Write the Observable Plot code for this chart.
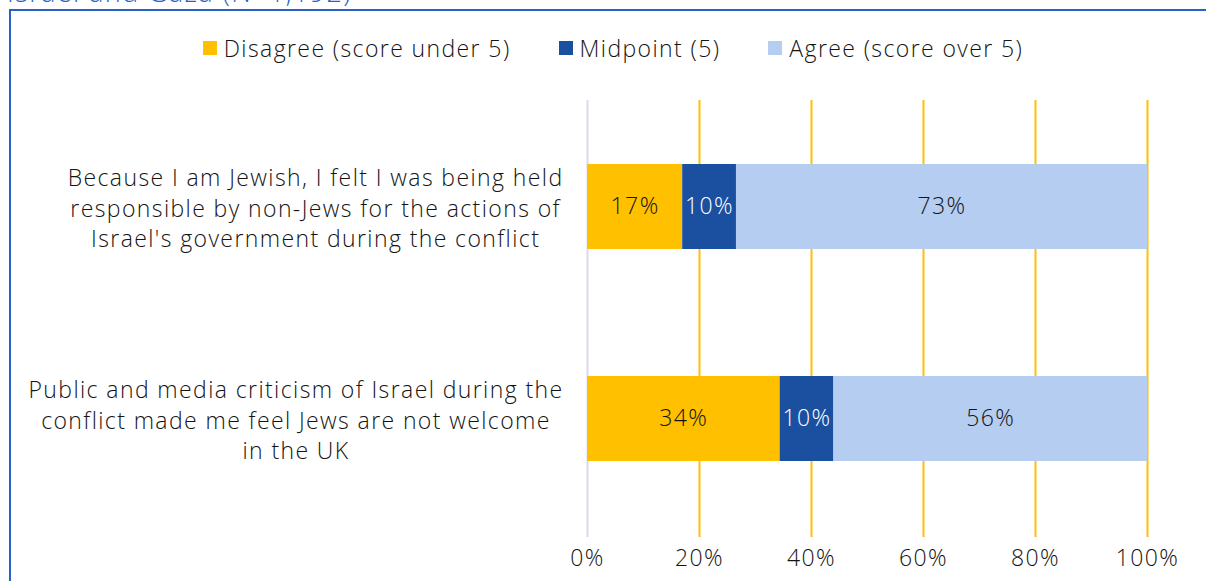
<!DOCTYPE html>
<html>
<head>
<meta charset="utf-8">
<script src="https://cdn.jsdelivr.net/npm/d3@7"></script>
<script src="https://cdn.jsdelivr.net/npm/@observablehq/plot@0.6"></script>
<style>
  html, body { margin: 0; padding: 0; background: #fff; }
  #wrap { position: relative; width: 1206px; height: 581px; overflow: hidden; font-family: "Open Sans", sans-serif; font-weight: 300; color: #141414; letter-spacing: 1.4px; }
  #title { position: absolute; left: 7px; top: -26px; font-size: 27px; line-height: 36px; color: #2563c4; white-space: nowrap; font-weight: 300; }
  #frame { position: absolute; left: 9px; top: 9px; right: -5px; bottom: -5px; border-left: 2.5px solid #2a62c4; border-top: 2.5px solid #2a62c4; }
  #legend { position: absolute; left: 10px; right: 0; top: 32px; display: flex; justify-content: center; gap: 48px; font-size: 23px; line-height: 32px; padding-left: 10px; }
  #legend .item { display: flex; align-items: center; gap: 7px; }
  #legend .sw { width: 14px; height: 14px; display: inline-block; }
  #chart { position: absolute; left: 0; top: 80px; }
  #chart svg { letter-spacing: 1.4px; }
</style>
</head>
<body>
<div id="wrap">
  <div id="title"></div>
  <div id="frame"></div>
  <div id="legend"></div>
  <div id="chart"></div>
</div>
<script>
const titleText = "Israel and Gaza (N=1,192)";
const categories = [
  "Because I am Jewish, I felt I was being held\nresponsible by non-Jews for the actions of\nIsrael's government during the conflict",
  "Public and media criticism of Israel during the\nconflict made me feel Jews are not welcome\nin the UK"
];
const responses = ["Disagree (score under 5)", "Midpoint (5)", "Agree (score over 5)"];
const disagree = [17.0, 34.4];
const midpoint = [9.6, 9.6];
const agree = [73.4, 56.0];
const tickValues = [0, 20, 40, 60, 80, 100];
const colors = ["#FFC000", "#1B4FA0", "#B4CDF0"];

document.getElementById("title").textContent = titleText;

const legend = document.getElementById("legend");
responses.forEach((r, i) => {
  const it = document.createElement("div");
  it.className = "item";
  const sw = document.createElement("span");
  sw.className = "sw";
  sw.style.background = colors[i];
  const t = document.createElement("span");
  t.textContent = r;
  it.appendChild(sw); it.appendChild(t);
  legend.appendChild(it);
});

const series = [disagree, midpoint, agree];
const rows = [];
categories.forEach((c, ci) => {
  let acc = 0;
  responses.forEach((r, ri) => {
    const v = series[ri][ci];
    rows.push({category: c, response: r, value: v, x1: acc, x2: acc + v, mid: acc + v / 2, label: Math.round(v) + "%"});
    acc += v;
  });
});

const FONT = '"Open Sans", sans-serif';
const FS = 23;
const LS = 1.4;
const ctx = document.createElement("canvas").getContext("2d");
ctx.font = `300 ${FS}px ${FONT}`;
const blockWidth = s => d3.max(s.split("\n"), l => ctx.measureText(l).width + LS * l.length);
const gap = 24;

const labelMarks = categories.map(c => Plot.text([c], {
  frameAnchor: "left", y: d => d, text: d => d,
  textAnchor: "middle", dx: -(gap + blockWidth(c) / 2),
  lineHeight: 1.33, fill: "#141414"
}));

const chart = Plot.plot({
  width: 1206,
  height: 501,
  marginTop: 20,
  marginBottom: 44,
  marginLeft: 587,
  marginRight: 59,
  style: {fontFamily: FONT, fontSize: FS + "px", fontWeight: 300, color: "#141414", background: "transparent"},
  x: {domain: [0, 100], ticks: tickValues, tickFormat: d => d + "%", label: null},
  y: {domain: categories, paddingInner: 0.6, paddingOuter: 0.33, align: 0.46, axis: null},
  color: {domain: responses, range: colors},
  marks: [
    Plot.ruleX(tickValues.filter(t => t > 0), {stroke: "#FFC000", strokeWidth: 2}),
    Plot.ruleX([0], {stroke: "#D9D9F0", strokeWidth: 2}),
    Plot.barX(rows, {x1: "x1", x2: "x2", y: "category", fill: "response"}),
    Plot.text(rows.filter(d => d.response !== responses[1]), {x: "mid", y: "category", text: "label", fill: "#141414"}),
    Plot.text(rows.filter(d => d.response === responses[1]), {x: "mid", y: "category", text: "label", fill: "#ffffff"}),
    Plot.axisX({ticks: tickValues, tickFormat: d => d + "%", tickSize: 0, tickPadding: 12, label: null}),
    ...labelMarks
  ]
});
document.getElementById("chart").appendChild(chart);
</script>
</body>
</html>
